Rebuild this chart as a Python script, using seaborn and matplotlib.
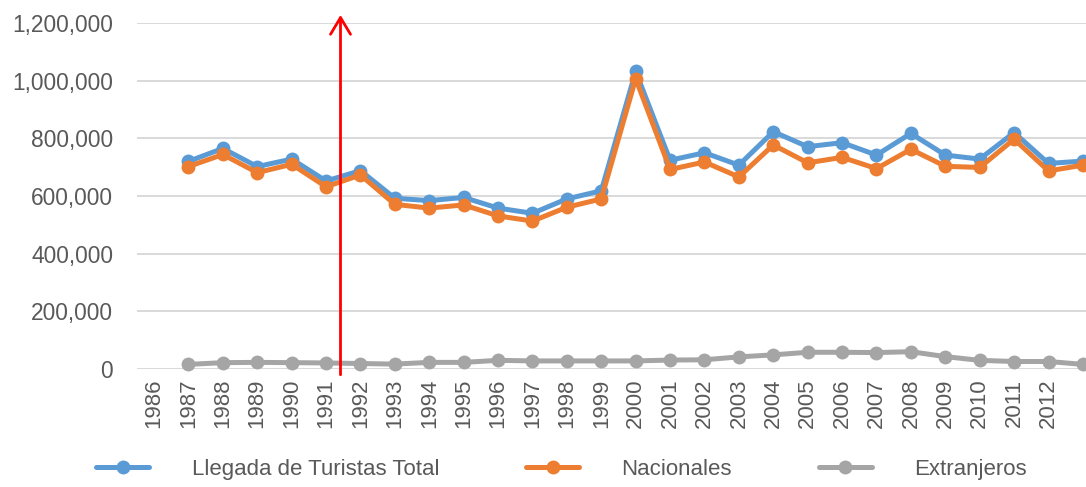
import numpy as np
import pandas as pd
import matplotlib
matplotlib.use("Agg")
import matplotlib.pyplot as plt
from matplotlib.lines import Line2D
from matplotlib.ticker import FuncFormatter
import seaborn as sns

# ---- data ----
tick_labels = [str(y) for y in range(1986, 2013)]  # axis labels 1986..2012
series_names = ["Llegada de Turistas Total", "Nacionales", "Extranjeros"]
total = [720000, 765000, 702000, 728000, 652000, 688000, 592000, 584000, 595000,
         558000, 540000, 590000, 618000, 1032000, 724000, 750000, 707000, 823000,
         771000, 785000, 742000, 817000, 742000, 728000, 820000, 713000, 721000]
nacionales = [702000, 744000, 681000, 710000, 632000, 673000, 571000, 558000, 569000,
              531000, 513000, 561000, 590000, 1007000, 692000, 718000, 666000, 777000,
              715000, 734000, 695000, 762000, 703000, 699000, 797000, 687000, 707000]
extranjeros = [16000, 22000, 23000, 22000, 21000, 19000, 17000, 23000, 23000,
               30000, 28000, 28000, 28000, 28000, 31000, 32000, 42000, 49000,
               58000, 58000, 57000, 60000, 43000, 30000, 26000, 26000, 16000]
colors = ["#5B9BD5", "#ED7D31", "#A5A5A5"]

# points sit one category to the right of the labels (as in the reference)
positions = np.arange(1, len(total) + 1)
df = pd.concat([
    pd.DataFrame({"pos": positions, "valor": vals, "serie": name})
    for name, vals in zip(series_names, [total, nacionales, extranjeros])
])

sns.set_theme(style="white")
plt.rcParams["font.family"] = ["Liberation Sans", "DejaVu Sans"]

fig = plt.figure(figsize=(10.86, 4.87), dpi=100)
ax = fig.add_axes([0.126, 0.2423, 0.874, 0.7105])

sns.lineplot(data=df, x="pos", y="valor", hue="serie", hue_order=series_names,
             palette=colors, marker="o", markersize=10, markeredgewidth=0,
             linewidth=3.6, legend=False, ax=ax, clip_on=False)

ax.set_xlim(-0.5, 27.09)
ax.set_ylim(0, 1200000)
ax.set_yticks(np.arange(0, 1200001, 200000))
ax.yaxis.set_major_formatter(FuncFormatter(lambda v, p: f"{int(v):,}"))
ax.set_xticks(np.arange(len(tick_labels)))
ax.set_xticklabels(tick_labels, rotation=90)
ax.set_xlabel("")
ax.set_ylabel("")
ax.grid(axis="y", color="#D9D9D9", linewidth=1.4)
ax.set_axisbelow(True)
for s in ax.spines.values():
    s.set_visible(False)
ax.tick_params(axis="both", length=0, labelsize=16, labelcolor="#595959")
ax.tick_params(axis="y", labelsize=16.4, pad=17)
ax.tick_params(axis="x", pad=7)

# red arrow
ax.annotate("", xy=(5.42, 1228000), xytext=(5.42, -20000),
            arrowprops=dict(arrowstyle="->,head_length=1.0,head_width=0.6",
                            color="#FF0000", lw=2, shrinkA=0, shrinkB=0),
            annotation_clip=False)

handles = [Line2D([0], [0], color=c, lw=3.6, marker="o", markersize=10,
                  markeredgewidth=0) for c in colors]
fig.legend(handles, series_names, loc="center", bbox_to_anchor=(0.517, 0.036),
           ncol=3, frameon=False, fontsize=16, labelcolor="#595959",
           handlelength=2.4, handletextpad=1.9, columnspacing=3.9)

fig.savefig("out.png", dpi=100)
